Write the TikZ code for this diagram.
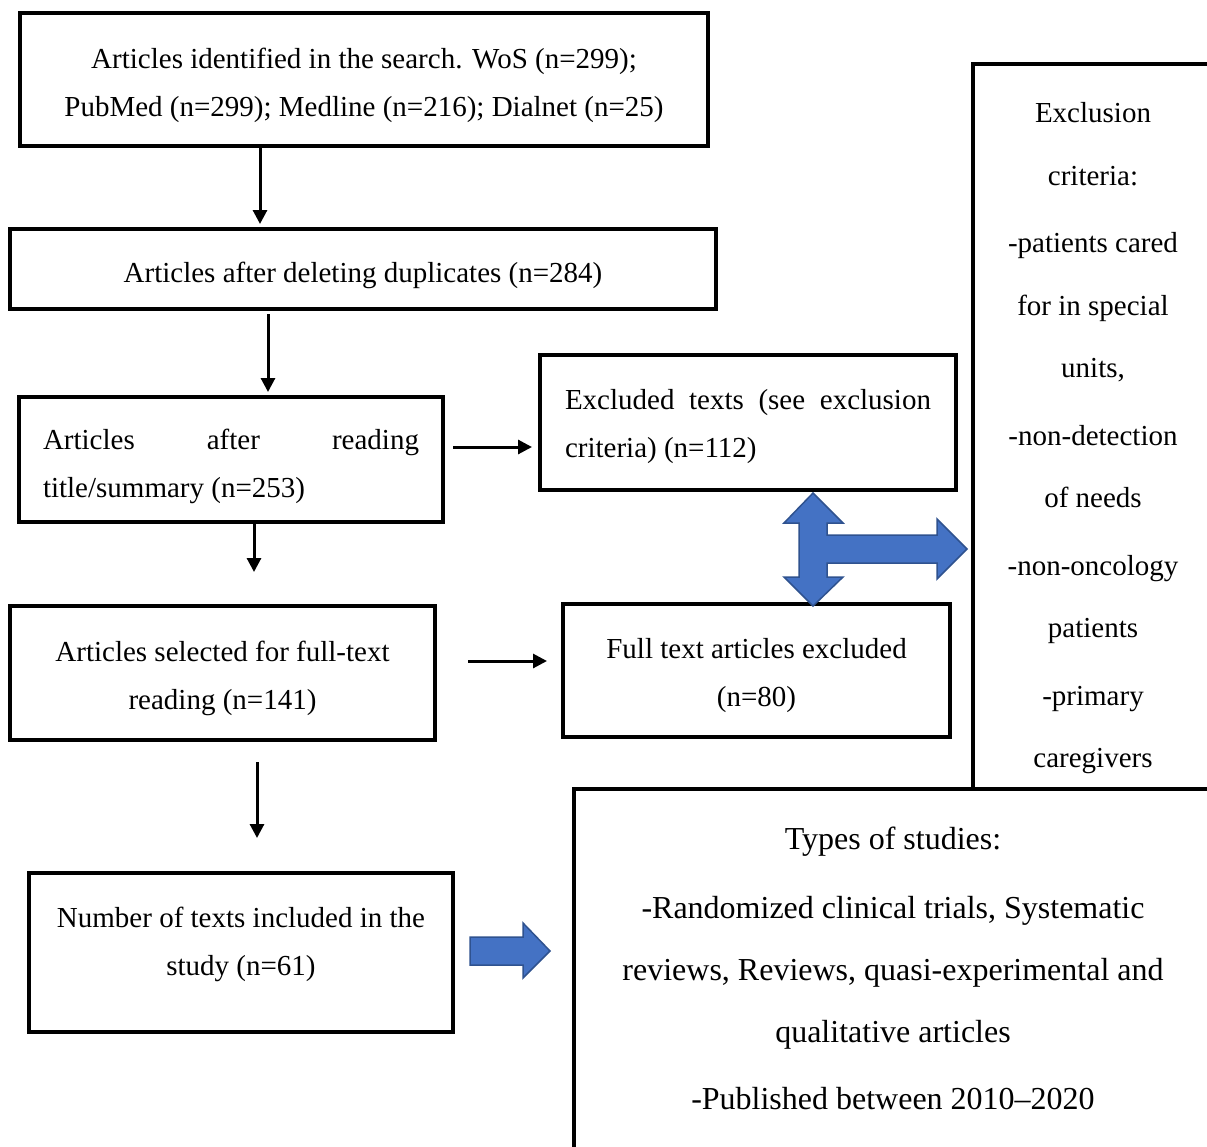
\documentclass[tikz,border=0pt]{standalone}
\usetikzlibrary{arrows.meta}
\usepackage{fontspec}
\setmainfont{Liberation Serif}
\newcommand\fsz{\fontsize{29}{48}\selectfont}
\definecolor{bluefill}{HTML}{4472C4}
\definecolor{blueedge}{HTML}{2F528F}
\begin{document}
\begin{tikzpicture}[x=1pt,y=-1pt,
  box/.style={draw, line width=3.5pt, inner sep=0pt},
  txt/.style={font=\fsz, align=center, inner sep=0pt},
  arr/.style={line width=3pt, -{Triangle[length=14pt,width=14pt]}},
  bluearrow/.style={fill=bluefill, draw=blueedge, line width=1.5pt, line join=miter}]
\useasboundingbox (0,0) rectangle (1207,1146);
\clip (0,0) rectangle (1207,1146);
\fill[white] (0,0) rectangle (1207,1146);

% left column boxes
\node[box, minimum width=688pt, minimum height=133pt] (b1) at (364,79.5) {};
\node[txt] (b1t) at ([yshift=-6pt]b1.center)
  {Articles identified in the search. WoS (n=299);\\PubMed (n=299); Medline (n=216); Dialnet (n=25)};
\node[box, minimum width=706pt, minimum height=80pt] (b2) at (363,269) {};
\node[txt] (b2t) at ([yshift=-6pt]b2.center) {Articles after deleting duplicates (n=284)};
\node[box, minimum width=424pt, minimum height=125pt] (b3) at (231,459.5) {};
\node[txt, text width=376pt, align=justify] (b3t) at ([yshift=-7pt]b3.center)
  {Articles after reading\linebreak title/summary (n=253)};
\node[box, minimum width=416pt, minimum height=135pt] (ex1) at (748,422.5) {};
\node[txt, text width=366pt, align=justify] (ex1t) at ([yshift=-4pt]ex1.center)
  {Excluded texts (see exclusion\linebreak criteria) (n=112)};
\node[box, minimum width=425pt, minimum height=134pt] (b4) at (222.5,673) {};
\node[txt] (b4t) at ([yshift=-5pt]b4.center) {Articles selected for full-text\\reading (n=141)};
\node[box, minimum width=387pt, minimum height=133pt] (ex2) at (756.5,670.5) {};
\node[txt] (ex2t) at ([yshift=-5pt]ex2.center) {Full text articles excluded\\(n=80)};
\node[box, minimum width=424pt, minimum height=159pt] (b5) at (241,952.5) {};
\node[txt] (b5t) at (241,944.5) {Number of texts included in the\\study (n=61)};

% exclusion criteria box (cut at right edge)
\node[box, minimum width=300pt, minimum height=760pt, anchor=north west] (excl) at (971,62) {};
\node[font=\fontsize{29}{62.5}\selectfont, align=center, inner sep=0pt] (exclt) at (1093,438.5)
  {Exclusion\\criteria:\\[5pt]-patients cared\\for in special\\units,\\[5pt]-non-detection\\of needs\\[5pt]-non-oncology\\patients\\[5pt]-primary\\caregivers};

% types of studies box (cut at right and bottom edges)
\node[box, fill=white, minimum width=700pt, minimum height=420pt, anchor=north west] (types) at (572,787) {};
\node[font=\fontsize{32}{62}\selectfont, align=center, inner sep=0pt] (typest) at (893,968)
  {Types of studies:\\[7pt]-Randomized clinical trials, Systematic\\reviews, Reviews, quasi-experimental and\\qualitative articles\\[5pt]-Published between 2010--2020};

% black arrows
\coordinate (a1) at (260,224);
\coordinate (a2s) at (268,314);
\coordinate (a2) at (268,392);
\coordinate (a3) at (254,572);
\coordinate (a4s) at (257,762);
\coordinate (a4) at (257,838);
\coordinate (h1s) at (453,447);
\coordinate (h1) at (532,447);
\coordinate (h2s) at (468,661);
\coordinate (h2) at (547,661);
\draw[arr] (a1 |- b1.south) -- (a1);
\draw[arr] (a2s) -- (a2);
\draw[arr] (a3 |- b3.south) -- (a3);
\draw[arr] (a4s) -- (a4);
\draw[arr] (h1s) -- (h1);
\draw[arr] (h2s) -- (h2);

% blue block arrows
\draw[bluearrow] (470,937) -- (523,937) -- (523,923) -- (550,951) -- (523,978) -- (523,965) -- (470,965) -- cycle;
\draw[bluearrow] (813,493) -- (843,523) -- (827,523) -- (827,535) -- (937,535) -- (937,519)
  -- (967,549) -- (937,579) -- (937,563) -- (827,563) -- (827,577) -- (843,577)
  -- (813,606) -- (784,577) -- (799,577) -- (799,523) -- (784,523) -- cycle;
\end{tikzpicture}
\end{document}
